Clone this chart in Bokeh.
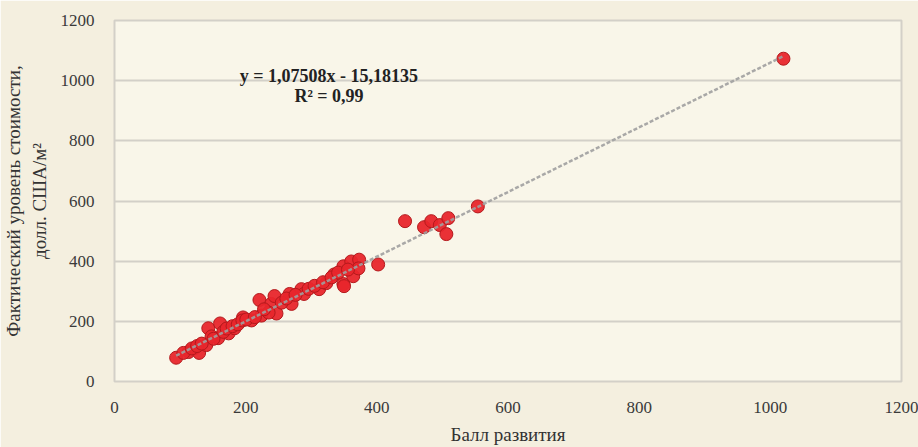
from bokeh.plotting import figure
from bokeh.models import ColumnDataSource, FixedTicker, Label
from bokeh.embed import file_html
from bokeh.resources import INLINE

# Development score vs actual price level (USD per m²)
score = [94, 113, 122, 129, 143, 140, 161, 158, 174, 183, 196, 209, 221, 224,
         239, 247, 244, 235, 267, 270, 285, 289, 312, 323, 335, 349, 349, 361,
         364, 373, 372, 350, 402, 443, 472, 483, 496, 509, 506, 554, 1020,
         105, 118, 126, 133, 148, 151, 166, 171, 180, 188, 195, 201, 214, 228,
         255, 262, 276, 296, 305, 318, 331, 341, 356]
price = [79, 98, 111, 95, 177, 121, 193, 144, 160, 177, 213, 203, 271, 219,
         258, 226, 284, 229, 291, 258, 307, 291, 307, 327, 356, 383, 324, 399,
         350, 405, 376, 317, 389, 533, 513, 533, 520, 543, 490, 582, 1073,
         95, 110, 118, 126, 150, 142, 165, 176, 184, 190, 203, 206, 214, 240,
         262, 276, 288, 308, 318, 330, 346, 362, 372]

slope = 1.07508
intercept = -15.18135
r2 = 0.99
tick_values = [0, 200, 400, 600, 800, 1000, 1200]

serif = "Liberation Serif"

p = figure(width=918, height=447, x_range=(0, 1200), y_range=(0, 1200),
           output_backend="svg", toolbar_location=None,
           min_border_left=113, min_border_right=17,
           min_border_top=20, min_border_bottom=61)

p.border_fill_color = "#f4efdf"
p.background_fill_color = "#f9f6e9"
p.outline_line_color = "#d3d0c8"
p.outline_line_width = 2

p.xgrid.grid_line_color = None
p.ygrid.grid_line_color = "#d3d0c8"
p.ygrid.grid_line_width = 2

for ax in (p.xaxis, p.yaxis):
    ax.ticker = FixedTicker(ticks=tick_values)
    ax.axis_line_color = None
    ax.major_tick_line_color = None
    ax.minor_tick_line_color = None
    ax.major_label_text_font = serif
    ax.major_label_text_font_size = "17px"
    ax.major_label_text_color = "#3a3a3a"
    ax.axis_label_text_font = serif
    ax.axis_label_text_font_style = "normal"
    ax.axis_label_text_color = "#333333"

p.xaxis.major_label_standoff = 14
p.xaxis.axis_label = "Балл развития"
p.xaxis.axis_label_text_font_size = "19px"
p.xaxis.axis_label_standoff = 8
p.yaxis.major_label_standoff = 14
p.yaxis.axis_label = "Фактический уровень стоимости,\nдолл. США/м²"
p.yaxis.axis_label_text_font_size = "19px"
p.yaxis.axis_label_standoff = 8

pts = ColumnDataSource(dict(x=score, y=price))
p.scatter("x", "y", source=pts, size=13, fill_color="#e8262c",
          line_color="#b3191c", line_width=1, fill_alpha=0.95)

# linear trend line from the fitted equation, drawn over the points
x0, x1 = min(score), max(score)
trend = ColumnDataSource(dict(x=[x0, x1],
                              y=[slope * x0 + intercept, slope * x1 + intercept]))
p.line("x", "y", source=trend, line_color="#a0a0a0", line_width=2.5,
       line_dash="4 2", line_alpha=0.9)

eq = Label(x=327, y=1014, text=f"y = {slope:.5f}x - {abs(intercept):.5f}".replace(".", ","),
           text_font=serif, text_font_size="18px", text_font_style="bold",
           text_color="#222222", text_align="center", text_baseline="middle")
rl = Label(x=327, y=948, text=f"R² = {r2:.2f}".replace(".", ","),
           text_font=serif, text_font_size="18px", text_font_style="bold",
           text_color="#222222", text_align="center", text_baseline="middle")
p.add_layout(eq)
p.add_layout(rl)

open("out.html", "w").write(file_html(p, INLINE))
